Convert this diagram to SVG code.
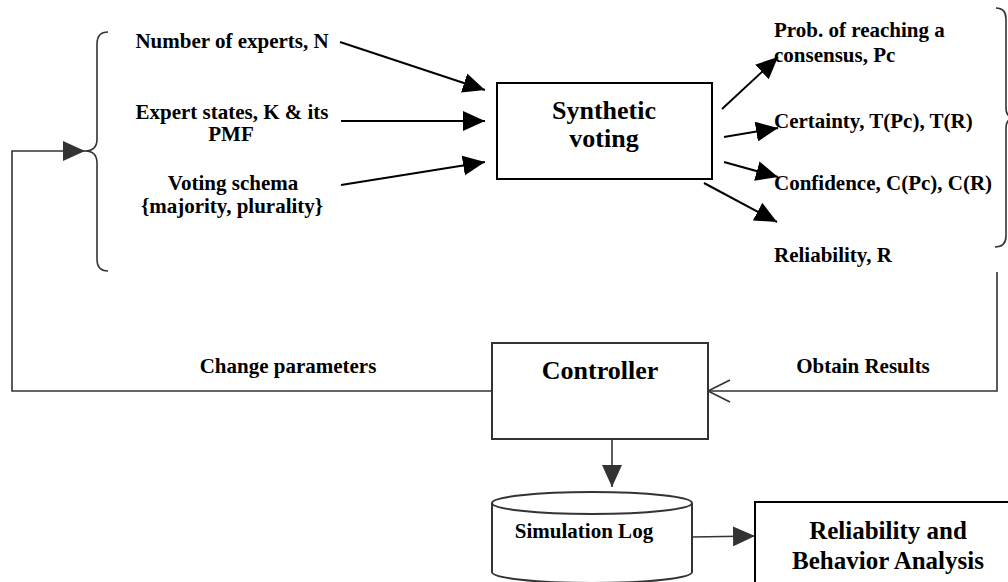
<svg xmlns="http://www.w3.org/2000/svg" width="1008" height="582" viewBox="0 0 1008 582">
<style>
  text { font-family: "Liberation Serif", "Times New Roman", serif; font-weight: bold; fill: #000; }
  .s { font-size: 21px; }
  .b { font-size: 26px; }
  .box { fill: #fff; stroke: #000; stroke-width: 2; }
  .box2 { fill: #fff; stroke: #333; stroke-width: 2; }
  .ln { fill: none; stroke: #000; stroke-width: 2; }
  .ln2 { fill: none; stroke: #333; stroke-width: 1.6; }
</style>
<defs>
  <marker id="ah" markerUnits="userSpaceOnUse" markerWidth="22" markerHeight="20" refX="22" refY="10" orient="auto">
    <path d="M0,0 L22,10 L0,20 z" fill="#000"/>
  </marker>
  <marker id="ah2" markerUnits="userSpaceOnUse" markerWidth="22" markerHeight="20" refX="22" refY="10" orient="auto">
    <path d="M0,0 L22,10 L0,20 z" fill="#333"/>
  </marker>
  <marker id="oa" markerUnits="userSpaceOnUse" markerWidth="24" markerHeight="24" refX="23" refY="12" orient="auto" overflow="visible">
    <path d="M1,1 L23,12 L1,23" fill="none" stroke="#333" stroke-width="1.6"/>
  </marker>
</defs>

<g id="connectors">
  <!-- inputs -->
  <line class="ln" x1="340" y1="42" x2="485" y2="90" marker-end="url(#ah)"/>
  <line class="ln" x1="341" y1="121" x2="485" y2="121" marker-end="url(#ah)"/>
  <line class="ln" x1="341" y1="185" x2="485" y2="162" marker-end="url(#ah)"/>
  <!-- outputs -->
  <line class="ln" x1="722" y1="109" x2="778" y2="57" marker-end="url(#ah)"/>
  <line class="ln" x1="724" y1="137" x2="778" y2="128" marker-end="url(#ah)"/>
  <line class="ln" x1="724" y1="162" x2="778" y2="177" marker-end="url(#ah)"/>
  <line class="ln" x1="704" y1="183" x2="777" y2="222" marker-end="url(#ah)"/>
  <!-- braces -->
  <path class="ln2" d="M108,32 Q97,32 97,44 L97,139 Q97,151 85,151 Q97,151 97,163 L97,259 Q97,271 108,271"/>
  <path class="ln2" d="M996,8 Q1006,8 1006,19 L1006,108 Q1006,118 1016,118 Q1006,118 1006,128 L1006,236 Q1006,247 995,247"/>
  <!-- feedback: change parameters -->
  <path class="ln2" d="M492,391 L12,391 L12,151 L85,151" marker-end="url(#ah2)"/>
  <!-- obtain results -->
  <path class="ln2" d="M997,272 L997,391 L708,391" marker-end="url(#oa)"/>
  <!-- controller to log -->
  <line class="ln2" x1="612" y1="439" x2="612" y2="487" marker-end="url(#ah2)"/>
  <!-- log to analysis -->
  <line class="ln2" x1="692" y1="537" x2="755" y2="536" marker-end="url(#ah2)"/>
</g>

<g id="inputs">
  <text class="s" x="232" y="48" text-anchor="middle">Number of experts, N</text>
  <text class="s" x="232" y="119" text-anchor="middle">Expert states, K &amp; its</text>
  <text class="s" x="231" y="141" text-anchor="middle">PMF</text>
  <text class="s" x="233" y="190" text-anchor="middle">Voting schema</text>
  <text class="s" x="232" y="213" text-anchor="middle">{majority, plurality}</text>
</g>

<g id="synthetic-voting">
  <rect class="box" x="497" y="83" width="215" height="96"/>
  <text class="b" x="604" y="119" text-anchor="middle">Synthetic</text>
  <text class="b" x="604" y="147" text-anchor="middle">voting</text>
</g>

<g id="outputs">
  <text class="s" x="774" y="37">Prob. of reaching a</text>
  <text class="s" x="774" y="62">consensus, Pc</text>
  <text class="s" x="774" y="128">Certainty, T(Pc), T(R)</text>
  <text class="s" x="774" y="190">Confidence, C(Pc), C(R)</text>
  <text class="s" x="774" y="262">Reliability, R</text>
</g>

<g id="labels">
  <text class="s" x="288" y="373" text-anchor="middle">Change parameters</text>
  <text class="s" x="863" y="373" text-anchor="middle">Obtain Results</text>
</g>

<g id="controller">
  <rect class="box2" x="492" y="343" width="216" height="96"/>
  <text class="b" x="600" y="379" text-anchor="middle">Controller</text>
</g>

<g id="simulation-log">
  <path class="box2" d="M492,503 L492,572 A100,11 0 0 0 692,572 L692,503"/>
  <ellipse class="box2" cx="592" cy="503" rx="100" ry="11"/>
  <text class="s" x="584" y="538" text-anchor="middle">Simulation Log</text>
</g>

<g id="analysis">
  <rect x="755" y="502" width="270" height="100" fill="#fff" stroke="#000" stroke-width="2"/>
  <text x="888" y="539" text-anchor="middle" style="font-size:25px">Reliability and</text>
  <text x="888" y="569" text-anchor="middle" style="font-size:25px">Behavior Analysis</text>
</g>
</svg>
